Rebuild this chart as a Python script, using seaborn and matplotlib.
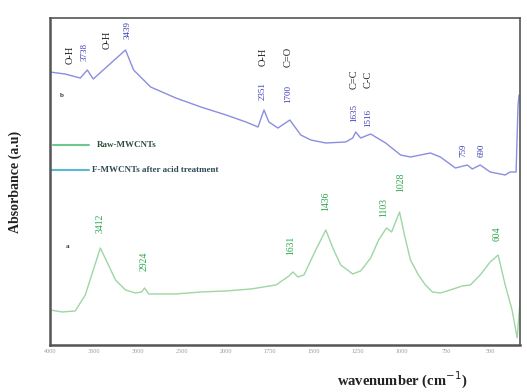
import numpy as np
import pandas as pd
import seaborn as sns
import matplotlib.pyplot as plt

# spectrum b (F-MWCNTs after acid treatment)
wn_b = [4000, 3829, 3657, 3577, 3509, 3371, 3143, 3051, 2857, 2571, 2286, 2000,
        1887, 1819, 1785, 1757, 1706, 1638, 1576, 1519, 1434, 1321, 1281, 1264,
        1236, 1179, 1094, 1009, 953, 840, 783, 698, 630, 602, 557, 500, 415, 387,
        353, 342, 336]
abs_b = [273, 271, 267, 275, 266, 277, 295, 275, 258, 247, 238, 230,
         223, 218, 235, 223, 217, 225, 210, 205, 202, 203, 207, 213,
         207, 211, 202, 190, 188, 192, 188, 177, 180, 176, 180, 173, 170, 173,
         173, 240, 250]

# spectrum a (Raw-MWCNTs)
wn_a = [4000, 3863, 3714, 3600, 3509, 3429, 3337, 3257, 3143, 3029, 2960, 2926,
        2880, 2571, 2286, 2000, 1858, 1717, 1643, 1621, 1592, 1558, 1491, 1434,
        1389, 1349, 1281, 1236, 1179, 1134, 1089, 1060, 1015, 987, 953, 908, 868,
        828, 783, 727, 659, 613, 557, 500, 455, 415, 376, 347, 330]
abs_a = [35, 33, 34, 50, 75, 97, 80, 65, 55, 52, 53, 57,
         51, 51, 53, 54, 56, 60, 69, 73, 68, 70, 95, 115,
         95, 80, 71, 74, 87, 105, 117, 113, 133, 110, 85, 70, 60,
         53, 52, 55, 59, 60, 70, 83, 90, 60, 35, 7, 45]

# peak labels: text, x position (cm-1), y position
lab_b = ['3738', '3439', '2351', '1700', '1635', '1516', '759', '690']
lab_b_x = [3611, 3120, 1791, 1649, 1275, 1191, 653, 546]
lab_b_y = [293, 315, 254, 251, 232, 227, 195, 195]
bond_b = ['O-H', 'O-H', 'O-H', 'C=O', 'C=C', 'C-C']
bond_b_x = [3771, 3349, 1791, 1649, 1275, 1191]
bond_b_y = [290, 305, 288, 288, 266, 266]

lab_a = ['3412', '2924', '1631', '1436', '1103', '1028', '604']
lab_a_x = [3429, 2937, 1632, 1434, 1106, 1011, 460]
lab_a_y = [122, 84, 100, 144, 137, 163, 111]

xticks = [4000, 3500, 3000, 2500, 2000, 1750, 1500, 1250, 1000, 750, 500]

sns.set_style('white')
plt.rcParams['font.family'] = ['Liberation Serif', 'DejaVu Serif']

fig = plt.figure(figsize=(5.27, 3.92), dpi=100)
ax = fig.add_axes([0.095, 0.12, 0.892, 0.834])

# axis with a scale change at 2000 cm-1
def fwd(w):
    return np.interp(w, [-10000, 2000, 20000], [-42, 6, 42])

def inv(p):
    return np.interp(p, [-42, 6, 42], [-10000, 2000, 20000])

ax.set_xscale('function', functions=(fwd, inv))

df_a = pd.DataFrame({'wn': wn_a, 'abs': abs_a})
df_b = pd.DataFrame({'wn': wn_b, 'abs': abs_b})
sns.lineplot(data=df_b, x='wn', y='abs', ax=ax, color='#8a8ee0', lw=1.0,
             sort=False, estimator=None)
sns.lineplot(data=df_a, x='wn', y='abs', ax=ax, color='#9ed6a4', lw=1.0,
             sort=False, estimator=None)

for t, x, y in zip(lab_b, lab_b_x, lab_b_y):
    ax.text(x, y, t, rotation=90, ha='center', va='center', fontsize=6.5, color='#3a3ab8')
for t, x, y in zip(bond_b, bond_b_x, bond_b_y):
    ax.text(x, y, t, rotation=90, ha='center', va='center', fontsize=7.5, color='#222222')
for t, x, y in zip(lab_a, lab_a_x, lab_a_y):
    ax.text(x, y, t, rotation=90, ha='center', va='center', fontsize=7, color='#2aa84a')

ax.text(3863, 250, 'b', fontsize=5, color='#333333', ha='center', va='center', fontweight='bold')
ax.text(3806, 98, 'a', fontsize=5, color='#333333', ha='center', va='center', fontweight='bold')

# legend drawn like the original: short lines + bold labels, no frame
ax.plot([3970, 3560], [200, 200], color='#6cc890', lw=1.5)
ax.text(3470, 200, 'Raw-MWCNTs', fontsize=6.5, fontweight='bold', color='#2f4f3a', va='center')
ax.plot([4000, 3560], [175, 175], color='#5ab8d8', lw=1.5)
ax.text(3520, 175, 'F-MWCNTs after acid treatment', fontsize=6.5, fontweight='bold',
        color='#2f4a55', va='center')

ax.set_xlim(4000, 330)
ax.set_ylim(0, 327)
ax.set_xticks(xticks)
ax.set_xticklabels([str(v) for v in xticks], fontsize=4.5, color='#999999')
ax.set_yticks([])
ax.tick_params(axis='x', length=0, pad=3)

for s in ax.spines.values():
    s.set_color('#555555')
    s.set_linewidth(1.2)
ax.spines['left'].set_linewidth(1.8)
ax.spines['bottom'].set_linewidth(1.8)

ax.set_ylabel('Absorbance (a.u)', fontsize=10, fontweight='bold', color='#222222')
ax.yaxis.set_label_coords(-0.06, 0.5)
ax.set_xlabel('wavenumber (cm$^{-1}$)', fontsize=10.5, fontweight='bold', color='#222222')
ax.xaxis.set_label_coords(0.75, -0.075)

plt.savefig('out.png', dpi=100)
